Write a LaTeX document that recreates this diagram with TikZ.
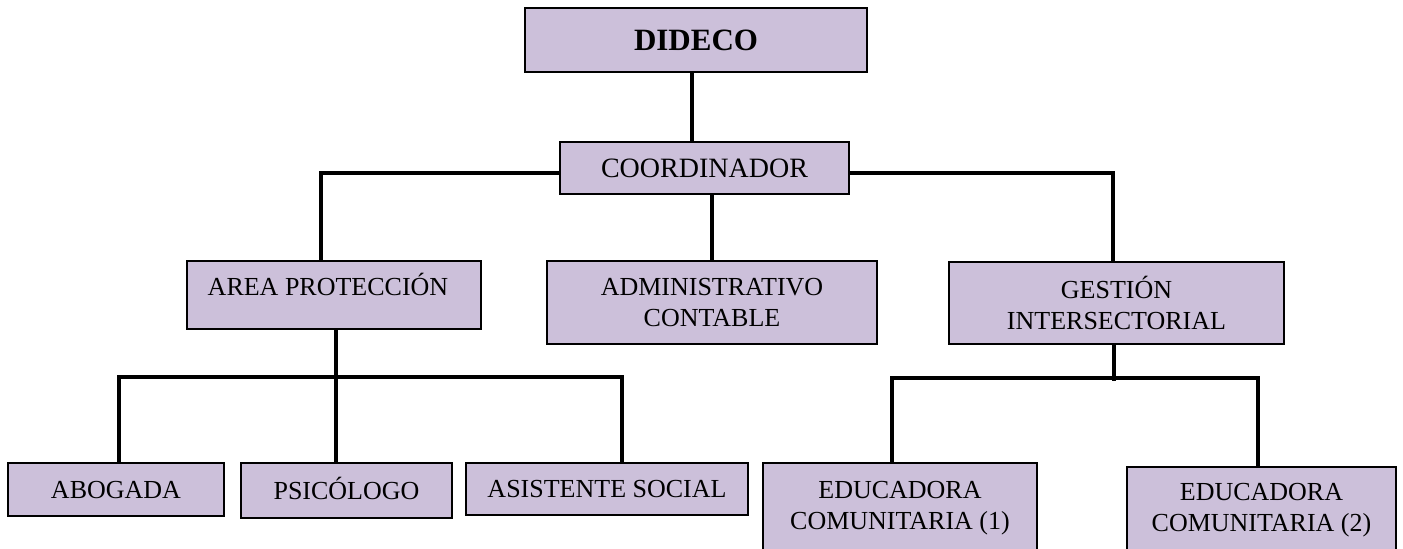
\documentclass[tikz,border=0pt]{standalone}
\usepackage{fontspec}
\setmainfont{Liberation Serif}
\definecolor{boxfill}{HTML}{CCC0DA}
\newcommand\orgbox[7][]{%
  \node[box,#1,minimum width={(#4-#2)*1bp},minimum height={(#5-#3)*1bp}]
    (#6) at ({(#2+#4)/2},{(#3+#5)/2}) {#7};}
\begin{document}
\begin{tikzpicture}[x=1bp,y=-1bp,
  box/.style={draw=black,line width=1.6bp,fill=boxfill,inner sep=0pt,align=center,
    font=\fontsize{26bp}{31bp}\selectfont},
  txt/.style={inner sep=0pt,font=\fontsize{26bp}{31bp}\selectfont},
  oneline/.style={text height=17.2bp,text depth=0bp},
  conn/.style={line width=3.6bp,draw=black}]
\clip (0,0) rectangle (1403,549);
\fill[white] (0,0) rectangle (1403,549);
% boxes
\orgbox[font=\fontsize{31bp}{36bp}\bfseries\selectfont,text height=20.5bp,text depth=0bp]{525}{8}{867}{72}{dideco}{DIDECO}
\orgbox[font=\fontsize{28bp}{33bp}\selectfont,text height=18.5bp,text depth=0bp]{560}{142}{849}{194}{coord}{COORDINADOR}
\orgbox{187}{261}{481}{329}{area}{}
\node[txt,oneline] (areatxt) at (328,287) {AREA PROTECCIÓN};
\orgbox{547}{261}{877}{344}{admin}{ADMINISTRATIVO\\CONTABLE}
\orgbox{949}{262}{1284}{344}{gest}{GESTIÓN\\INTERSECTORIAL}
\orgbox[oneline]{8}{463}{224}{516}{abog}{ABOGADA}
\orgbox[oneline]{241}{463}{452}{518}{psic}{PSICÓLOGO}
\orgbox[oneline]{466}{463}{748}{515}{asis}{ASISTENTE SOCIAL}
\orgbox{763}{463}{1037}{553}{edu1}{EDUCADORA\\COMUNITARIA (1)}
\orgbox{1127}{467}{1396}{553}{edu2}{EDUCADORA\\COMUNITARIA (2)}
% bus coordinates
\coordinate (ctop) at (692,0);
\coordinate (cl) at (321,173);
\coordinate (cr) at (1113,173);
\coordinate (cm) at (712,0);
\coordinate (la) at (119,377);
\coordinate (lb) at (336,377);
\coordinate (lc) at (622,377);
\coordinate (ra) at (892,378);
\coordinate (rb) at (1114,381);
\coordinate (rc) at (1258,378);
% connectors
\draw[conn] (dideco.south -| ctop) -- (coord.north -| ctop);
\draw[conn] (coord.west |- cl) -| (area.north -| cl);
\draw[conn] (coord.east |- cr) -| (gest.north -| cr);
\draw[conn] (coord.south -| cm) -- (admin.north -| cm);
\draw[conn] (abog.north -| la) |- (lc) -- (asis.north -| lc);
\draw[conn] (area.south -| lb) -- (psic.north -| lb);
\draw[conn] (edu1.north -| ra) |- (rc) -- (edu2.north -| rc);
\draw[conn] (gest.south -| rb) -- (rb);
\end{tikzpicture}
\end{document}
